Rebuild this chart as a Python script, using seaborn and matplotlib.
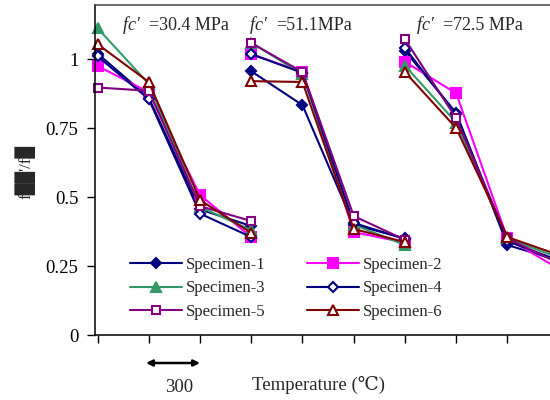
import matplotlib
matplotlib.use("Agg")
import matplotlib.pyplot as plt
import seaborn as sns
import pandas as pd

# Strength groups and the four heating stages per group
groups = ["fc' =30.4 MPa", "fc' =51.1MPa", "fc' =72.5 MPa"]
stages = [0, 1, 2, 3]
group_offset = [0, 3, 6]

specimens = ["Specimen-1", "Specimen-2", "Specimen-3",
             "Specimen-4", "Specimen-5", "Specimen-6"]

# residual strength ratio, one list per group (rows follow specimens)
ratio_30 = [
    [1.02, 0.86, 0.455, 0.395],
    [0.975, 0.88, 0.507, 0.355],
    [1.112, 0.91, 0.464, 0.38],
    [1.01, 0.855, 0.44, 0.355],
    [0.897, 0.885, 0.467, 0.413],
    [1.054, 0.917, 0.489, 0.37],
]
ratio_51 = [
    [0.956, 0.833, 0.40, 0.35],
    [1.018, 0.953, 0.373, 0.335],
    [1.06, 0.945, 0.40, 0.326],
    [1.018, 0.95, 0.406, 0.348],
    [1.058, 0.953, 0.431, 0.345],
    [0.92, 0.917, 0.384, 0.337],
]
ratio_72 = [
    [1.03, 0.805, 0.326, 0.27],
    [0.99, 0.876, 0.35, 0.24],
    [0.976, 0.77, 0.35, 0.28],
    [1.04, 0.80, 0.34, 0.27],
    [1.072, 0.785, 0.35, 0.26],
    [0.953, 0.75, 0.355, 0.29],
]
all_ratios = [ratio_30, ratio_51, ratio_72]

colors = ["#000080", "#FF00FF", "#339966", "#000080", "#800080", "#800000"]
markers = ["D", "s", "^", "D", "s", "^"]
faces = ["#000080", "#FF00FF", "#339966", "white", "white", "white"]
msizes = [5.5, 6.5, 7.5, 5.5, 5.5, 6.5]

rows = []
for g, (name, off, table) in enumerate(zip(groups, group_offset, all_ratios)):
    for s, spec in enumerate(specimens):
        for st, v in zip(stages, table[s]):
            rows.append({"group": g, "specimen": spec, "pos": off + st, "ratio": v})
df = pd.DataFrame(rows)

sns.set_style("ticks")
plt.rcParams["font.family"] = ["Liberation Serif", "DejaVu Serif"]

fig = plt.figure(figsize=(5.5, 4), dpi=100)

# axes run past the right edge of the figure
ax = fig.add_axes([95 / 550, 65 / 400, 520 / 550, 330 / 400])

handles = {}
for g in range(len(groups)):
    for s, spec in enumerate(specimens):
        sub = df[(df.group == g) & (df.specimen == spec)]
        sns.lineplot(data=sub, x="pos", y="ratio", ax=ax, color=colors[s],
                     marker=markers[s], markerfacecolor=faces[s],
                     markeredgecolor=colors[s], markeredgewidth=1.5,
                     markersize=msizes[s], linewidth=1.5, legend=False,
                     clip_on=False if g < 2 else True)
        handles[spec] = ax.lines[-1]

ax.set_xlim(-0.05, 10.1)
ax.set_ylim(0, 1.196)
ax.set_xticks(range(10))
ax.set_xticklabels([])
ax.set_yticks([0, 0.25, 0.5, 0.75, 1.0])
ax.set_yticklabels(["0", "0.25", "0.5", "0.75", "1"])
ax.tick_params(axis="both", direction="out", length=6, width=1, colors="black",
               labelsize=13.5, pad=6)
ax.set_xlabel("")
ax.set_ylabel("")
for side in ["left", "bottom", "top"]:
    ax.spines[side].set_color("black")
    ax.spines[side].set_linewidth(1.1)
ax.spines["top"].set_color("#444444")
ax.spines["right"].set_visible(False)

# group headings
title_x = [123, 250, 417]
for name, x0 in zip(groups, title_x):
    fc, rest = name.split("=")
    t = fig.text(x0 / 550, 1 - 25 / 400, "fc\u2032  ", style="italic",
                 fontsize=13, va="center", ha="left")
    fig.canvas.draw()
    bb = t.get_window_extent()
    fig.text(bb.x1 / 550, 1 - 25 / 400, "=" + rest, fontsize=13,
             va="center", ha="left")

# y label
fig.text(25 / 550, 1 - 172 / 400, "f\u2588\u2588'/f\u2588", rotation=90,
         fontsize=12, va="center", ha="center",
         family=["Liberation Serif", "DejaVu Sans"])

# temperature scale
ax.annotate("", xy=(200 / 550, 1 - 363 / 400), xytext=(146 / 550, 1 - 363 / 400),
            xycoords="figure fraction", textcoords="figure fraction",
            arrowprops=dict(arrowstyle="<|-|>", color="black", lw=1.8,
                            mutation_scale=9, shrinkA=0, shrinkB=0))
fig.text(179 / 550, 1 - 387 / 400, "300", fontsize=13.5, ha="center", va="center")
fig.text(318 / 550, 1 - 385 / 400, "Temperature (\u2103)", fontsize=13.5,
         ha="center", va="center")

order = [0, 2, 4, 1, 3, 5]
ax.legend([handles[specimens[i]] for i in order], [specimens[i] for i in order],
          ncol=2, frameon=False,
          loc="upper left", bbox_to_anchor=(130 / 550, 1 - 257 / 400),
          bbox_transform=fig.transFigure, fontsize=12, handlelength=3.1,
          handletextpad=0.25, columnspacing=2.5, labelspacing=0.45,
          borderpad=0, borderaxespad=0)

fig.savefig("out.png", dpi=100)
